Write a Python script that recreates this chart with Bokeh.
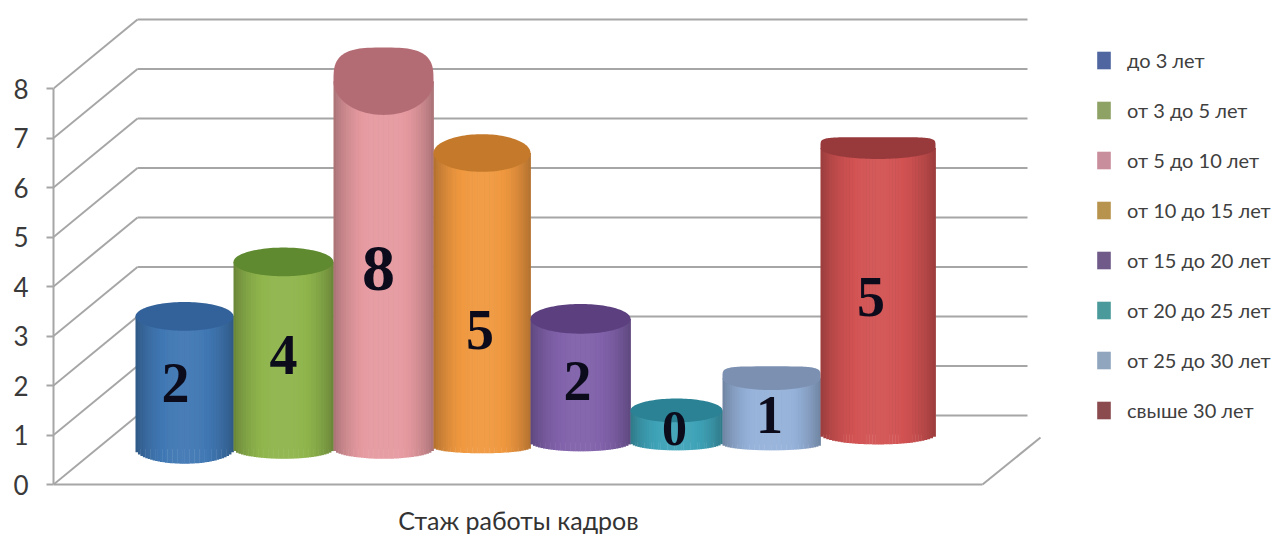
import numpy as np
from bokeh.plotting import figure
from bokeh.models import Legend, LegendItem, FixedTicker, Range1d
from bokeh.core.properties import value
from bokeh.embed import file_html
from bokeh.resources import INLINE

# ---- data ----
categories = ["до 3 лет", "от 3 до 5 лет", "от 5 до 10 лет", "от 10 до 15 лет",
              "от 15 до 20 лет", "от 20 до 25 лет", "от 25 до 30 лет", "свыше 30 лет"]
bar_heights = [2.7, 3.8, 7.45, 6.0, 2.65, 0.8, 1.45, 6.1]
bar_labels = ["2", "4", "8", "5", "2", "0", "1", "5"]
y_ticks = [0, 1, 2, 3, 4, 5, 6, 7, 8]
x_title = "Стаж работы кадров"

# ---- styles ----
body_colors = ["#4078b4", "#8fb54c", "#e59aa0", "#f0983f", "#8061aa", "#3fa3b8", "#96b2da", "#d25252"]
cap_colors = ["#33629a", "#5f8a30", "#b36c74", "#c47a2a", "#5b3f7e", "#2a8294", "#7c90b2", "#983a3c"]
legend_colors = ["#4f66a0", "#8fa266", "#c98e9b", "#b8934e", "#6f5a8a", "#4a9a9c", "#8fa6be", "#8a4a4e"]
slot_widths = [0.98, 1.0, 1.0, 0.97, 1.0, 0.92, 0.98, 1.15]
cap_ry = [0.29, 0.29, 0.68, 0.38, 0.30, 0.24, 0.24, 0.22]
base_level = [0.72, 0.72, 0.72, 0.75, 0.85, 0.85, 0.81, 1.01]
base_sag = [0.30, 0.20, 0.20, 0.12, 0.18, 0.16, 0.12, 0.20]
cap_square = [2, 2, 3.2, 2, 2, 2, 5, 6]
label_sizes = [56, 56, 66, 56, 56, 50, 54, 56]
label_frac = [0.5, 0.5, 0.49, 0.4, 0.5, 0.45, 0.45, 0.48]
label_nudge = [-0.09, 0.0, -0.05, -0.02, -0.03, -0.02, -0.02, -0.07]
GRID = "#a6a6a6"
DX, DY = 0.84, 1.394      # depth of the 3D box, in axis units
MID = DY / 2              # the plane the cylinders stand on

W, H = 1280, 536
p = figure(width=W, height=H, output_backend="svg", toolbar_location=None,
           x_range=Range1d(-0.82, 11.45), y_range=Range1d(-1.05, 9.778),
           min_border_left=53, min_border_right=0, min_border_top=0, min_border_bottom=0,
           outline_line_color=None, background_fill_color="white", border_fill_color="white")
p.grid.visible = False

# axes
p.yaxis.ticker = FixedTicker(ticks=y_ticks)
p.yaxis.bounds = (0, 8)
p.yaxis.axis_line_color = GRID
p.yaxis.axis_line_width = 2
p.yaxis.major_tick_line_color = GRID
p.yaxis.major_tick_line_width = 2
p.yaxis.major_tick_out = 7
p.yaxis.major_tick_in = 0
p.yaxis.minor_tick_line_color = None
p.yaxis.major_label_standoff = 18
p.yaxis.major_label_text_font = "Lato"
p.yaxis.major_label_text_font_size = "26px"
p.yaxis.major_label_text_color = "#3a3a3a"

p.xaxis.ticker = FixedTicker(ticks=[])
p.xaxis.bounds = (-0.82, 8.47)
p.xaxis.fixed_location = 0
p.xaxis.axis_line_color = GRID
p.xaxis.axis_line_width = 2
p.xaxis.major_label_text_font_size = "0px"
p.xaxis.major_label_standoff = 0
p.xaxis.major_tick_out = 0
p.xaxis.minor_tick_line_color = None

# walls
ticks = np.array(y_ticks, dtype=float)
p.segment(x0=np.full(len(ticks), -0.82), y0=ticks, x1=np.full(len(ticks), -0.82 + DX), y1=ticks + DY,
          line_color=GRID, line_width=2)
edges = np.concatenate([[0.0], np.cumsum(slot_widths)])
grid_start = np.where(ticks < 2, edges[-1], -0.82 + DX)
p.segment(x0=grid_start, y0=ticks + DY, x1=np.full(len(ticks), 8.92), y1=ticks + DY,
          line_color=GRID, line_width=2)
p.segment(x0=[8.47], y0=[0], x1=[9.05], y1=[0.95], line_color=GRID, line_width=2)


def shade(color, f):
    rgb = np.array([int(color[i:i + 2], 16) for i in (1, 3, 5)], dtype=float)
    if f <= 1:
        rgb = rgb * f
    else:
        rgb = rgb + (255 - rgb) * (f - 1)
    return "#%02x%02x%02x" % tuple(int(round(c)) for c in rgb)


legend_items = []
for i, name in enumerate(categories):
    left, right = edges[i], edges[i + 1]
    cx, rx = (left + right) / 2, (right - left) / 2
    top = MID + bar_heights[i]
    base = base_level[i]
    # flat base, used for the legend swatch too
    base_r = p.quad(left=[left + 0.02], right=[right - 0.02], bottom=[base], top=[top],
                    fill_color=legend_colors[i], line_color=None)
    legend_items.append(LegendItem(label=value(name), renderers=[base_r]))
    # shaded strips of the cylinder wall
    n = 40
    xs = np.linspace(left, right, n + 1)
    mids = (xs[:-1] + xs[1:]) / 2
    u = (mids - cx) / rx
    sag = base_sag[i] * np.sqrt(np.clip(1 - u ** 2, 0, 1))
    brightness = 0.74 + 0.30 * np.clip(1 - np.abs(u) ** 2.4, 0, 1)
    p.quad(left=xs[:-1], right=xs[1:] + 0.004, bottom=base - sag, top=np.full(n, top),
           fill_color=[shade(body_colors[i], f) for f in brightness], line_color=None)
    # cap
    t = np.linspace(0, 2 * np.pi, 121)
    e = 2 / cap_square[i]
    c, s = np.cos(t), np.sin(t)
    upper_e = np.where(s > 0, e, 1.0)
    px = cx + rx * np.sign(c) * np.abs(c) ** upper_e
    py = top + cap_ry[i] * np.sign(s) * np.abs(s) ** upper_e
    p.patch(px, py, fill_color=cap_colors[i], line_color=None)
    # number
    y_lab = base + (top - base) * label_frac[i]
    p.text(x=[cx + label_nudge[i]], y=[y_lab], text=[bar_labels[i]],
           text_font=value("Liberation Serif"), text_font_style="bold",
           text_font_size=f"{label_sizes[i]}px", text_color="#0b0b1c",
           text_align="center", text_baseline="middle")

legend = Legend(items=legend_items, location=(1042, 114), orientation="vertical",
                glyph_width=17, glyph_height=22, label_height=18, label_width=150,
                label_standoff=15, spacing=26, margin=0, padding=0,
                border_line_color=None, background_fill_alpha=0,
                label_text_font="Lato", label_text_font_size="20px", label_text_color="#404040")
p.add_layout(legend)

p.text(x=[3.83], y=[-0.72], text=[x_title], text_font=value("Lato"), text_font_size="25px",
       text_color="#333333", text_align="center", text_baseline="middle")

open("out.html", "w").write(file_html(p, INLINE))
